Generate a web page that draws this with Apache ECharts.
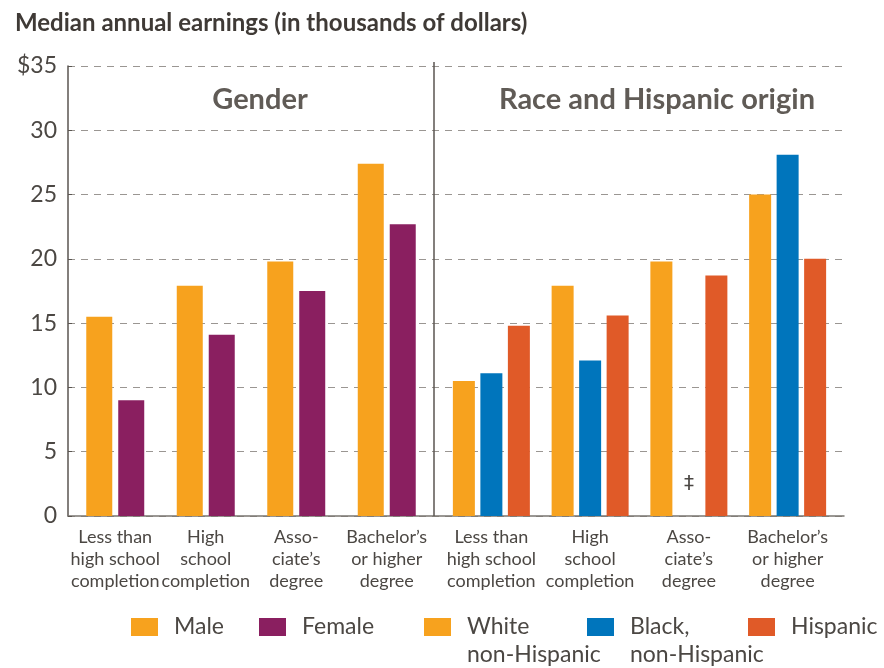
<!DOCTYPE html>
<html>
<head>
<meta charset="utf-8">
<script src="https://cdn.jsdelivr.net/npm/echarts@6/dist/echarts.min.js"></script>
<style>
    html, body { margin: 0; padding: 0; background: #fff; }
    #chart { width: 884px; height: 668px; }
</style>
</head>
<body>
<div id="chart"></div>
<script>
    // categories
    const levels = ['Less than\nhigh school\ncompletion', 'High\nschool\ncompletion', 'Asso-\nciate\u2019s\ndegree', 'Bachelor\u2019s\nor higher\ndegree'];
    const yTicks = [0, 5, 10, 15, 20, 25, 30, 35];

    // gender panel
    const male = [15.5, 17.9, 19.8, 27.4];
    const female = [9.0, 14.1, 17.5, 22.7];

    // race / hispanic origin panel (null = reporting standards not met)
    const white = [10.5, 17.9, 19.8, 25.0];
    const black = [11.1, 12.1, null, 28.1];
    const hispanic = [14.8, 15.6, 18.7, 20.0];

    const FONT = 'Lato';
    const TEXT = '#4b4743';
    const ORANGE = '#F7A21E', PURPLE = '#8A1F60', BLUE = '#0075BC', RED = '#E05A28';

    const gridTop = 66, gridBottom = 152;

    const blackData = black.map(function (v) {
        if (v === null) {
            return {
                value: 0,
                label: {show: true, position: 'top', distance: 22, formatter: '\u2021',
                    fontSize: 20, color: TEXT, fontFamily: 'DejaVu Sans'}
            };
        }
        return v;
    });

    function catAxis(gridIndex) {
        return {
            type: 'category', gridIndex: gridIndex, data: levels,
            axisLine: {show: false}, axisTick: {show: false},
            axisLabel: {color: TEXT, fontSize: 18, fontFamily: FONT, lineHeight: 22, margin: 10, interval: 0}
        };
    }
    function hiddenY(gridIndex) {
        return {type: 'value', gridIndex: gridIndex, min: 0, max: 35, show: false};
    }
    // legend box is shifted so the icon lands where the reference has it;
    // two-line names get a blank first line so their first line sits beside the icon
    function legendAt(left, name, twoLine) {
        return {
            left: left - 5, top: twoLine ? 580 : 608, itemWidth: 27, itemHeight: 18, icon: 'rect',
            data: [name],
            formatter: function (n) { return twoLine ? '\n' + n : n; },
            textStyle: {color: TEXT, fontSize: 23, fontFamily: FONT, lineHeight: 28, padding: [0, 0, 0, 11]},
            selectedMode: false
        };
    }

    const option = {
        animation: false,
        title: [
            {text: 'Median annual earnings (in thousands of dollars)', left: 10, top: 6,
                textStyle: {color: '#3f3a36', fontSize: 24, fontWeight: 'bold', fontFamily: FONT}},
            {text: 'Gender', left: 255, top: 80, textAlign: 'center',
                textStyle: {color: '#605b56', fontSize: 29, fontWeight: 'bold', fontFamily: FONT}},
            {text: 'Race and Hispanic origin', left: 652, top: 80, textAlign: 'center',
                textStyle: {color: '#605b56', fontSize: 29, fontWeight: 'bold', fontFamily: FONT}}
        ],
        grid: [
            {left: 68, right: 40, top: gridTop, bottom: gridBottom},
            {left: 70, right: 452, top: gridTop, bottom: gridBottom},
            {left: 442, right: 47, top: gridTop, bottom: gridBottom}
        ],
        xAxis: [
            {type: 'value', gridIndex: 0, min: 0, max: 1,
                axisLine: {show: true, lineStyle: {color: '#7a7570', width: 1.5}},
                axisTick: {show: false}, axisLabel: {show: false}, splitLine: {show: false}},
            catAxis(1),
            catAxis(2)
        ],
        yAxis: [
            {type: 'value', gridIndex: 0, min: 0, max: 35, interval: 5,
                axisLine: {show: true, lineStyle: {color: '#5a5550', width: 1.5}},
                axisTick: {show: true, inside: true, length: 4, lineStyle: {color: '#5a5550'}},
                axisLabel: {color: TEXT, fontSize: 23, fontFamily: FONT, margin: 11,
                    formatter: function (v) { return v === yTicks[yTicks.length - 1] ? '$' + v : String(v); }},
                splitLine: {show: true, lineStyle: {color: '#9a9692', type: [7, 6], width: 1.2}}},
            hiddenY(1),
            hiddenY(2)
        ],
        legend: [
            legendAt(131, 'Male', false),
            legendAt(259, 'Female', false),
            legendAt(424, 'White\nnon-Hispanic', true),
            legendAt(587, 'Black,\nnon-Hispanic', true),
            legendAt(748, 'Hispanic', false)
        ],
        graphic: [
            {type: 'line', shape: {x1: 434, y1: 62, x2: 434, y2: 516},
                style: {stroke: '#5a5550', lineWidth: 1.5}, z: 10}
        ],
        series: [
            {name: 'Male', type: 'bar', xAxisIndex: 1, yAxisIndex: 1, data: male,
                barWidth: 26, barGap: '23%', itemStyle: {color: ORANGE}},
            {name: 'Female', type: 'bar', xAxisIndex: 1, yAxisIndex: 1, data: female,
                barWidth: 26, barGap: '23%', itemStyle: {color: PURPLE}},
            {name: 'White\nnon-Hispanic', type: 'bar', xAxisIndex: 2, yAxisIndex: 2, data: white,
                barWidth: 22, barGap: '25%', itemStyle: {color: ORANGE}},
            {name: 'Black,\nnon-Hispanic', type: 'bar', xAxisIndex: 2, yAxisIndex: 2, data: blackData,
                barWidth: 22, barGap: '25%', itemStyle: {color: BLUE}},
            {name: 'Hispanic', type: 'bar', xAxisIndex: 2, yAxisIndex: 2, data: hispanic,
                barWidth: 22, barGap: '25%', itemStyle: {color: RED}}
        ]
    };

    const myChart = echarts.init(document.getElementById('chart'));
    myChart.setOption(option);
</script>
</body>
</html>
